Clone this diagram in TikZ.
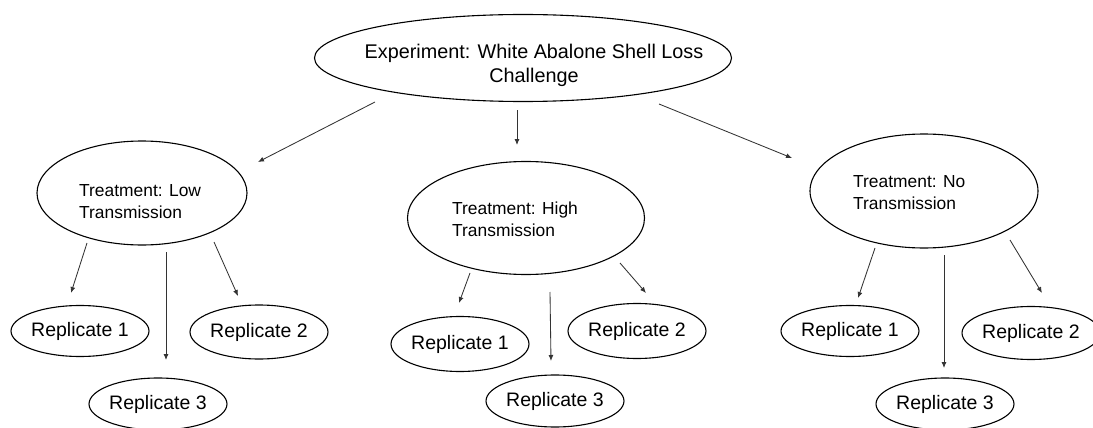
\documentclass[tikz,border=0pt]{standalone}
\usepackage{fontspec}
\setmainfont{Liberation Sans}
\usetikzlibrary{arrows.meta,shapes.geometric}
\tikzset{
  oval/.style={draw=black, line width=1.1pt, ellipse, inner sep=0pt},
  reptext/.style={font=\fontsize{19.5}{23}\selectfont, text=black},
  treattext/.style={font=\fontsize{17.4}{22.5}\selectfont, text=black, align=left, anchor=west, inner sep=0pt},
  toptext/.style={font=\fontsize{19.8}{24}\selectfont, text=black, align=center, inner sep=0pt},
  conn/.style={draw=black!80, line width=0.85pt, -{Latex[length=6pt,width=5pt]}}
}
\begin{document}
\begin{tikzpicture}[x=1pt,y=-1pt]
\useasboundingbox (0,0) rectangle (1093,428);
\begin{scope}
\clip (0,0) rectangle (1093,428);
% main ellipses
\node[oval, minimum width=417pt, minimum height=87pt] (top) at (523,58) {};
\node[toptext] (toptxt) at (534,65) {Experiment: White Abalone Shell Loss\\Challenge};
\node[oval, minimum width=210pt, minimum height=104pt] (low) at (142,193) {};
\node[treattext] (lowtxt) at (79,201.5) {Treatment: Low\\Transmission};
\node[oval, minimum width=237pt, minimum height=113pt] (high) at (526,218) {};
\node[treattext] (hightxt) at (452,219.5) {Treatment: High\\Transmission};
\node[oval, minimum width=228pt, minimum height=114pt] (no) at (924,191) {};
\node[treattext] (notxt) at (853,192.5) {Treatment: No\\Transmission};
% replicates
\node[oval, reptext, minimum width=134pt, minimum height=51pt] (lr1) at (80,331) {Replicate 1};
\node[oval, reptext, minimum width=134pt, minimum height=54pt] (lr2) at (259,332) {Replicate 2};
\node[oval, reptext, minimum width=135pt, minimum height=52pt] (lr3) at (158,404) {Replicate 3};
\node[oval, reptext, minimum width=135pt, minimum height=55pt] (hr1) at (460,344) {Replicate 1};
\node[oval, reptext, minimum width=136pt, minimum height=55pt] (hr2) at (637,331) {Replicate 2};
\node[oval, reptext, minimum width=136pt, minimum height=52pt] (hr3) at (555,401) {Replicate 3};
\node[oval, reptext, minimum width=135pt, minimum height=51pt] (nr1) at (850,331) {Replicate 1};
\node[oval, reptext, minimum width=126pt, minimum height=53pt] (nr2) at (1031,333) {Replicate 2};
\node[oval, reptext, minimum width=135pt, minimum height=52pt] (nr3) at (945,404) {Replicate 3};
\end{scope}
% connector end points
\coordinate (tl1) at (375,102); \coordinate (tl2) at (258,162);
\coordinate (th1) at (517,110); \coordinate (th2) at (517,145);
\coordinate (tn1) at (659,104); \coordinate (tn2) at (792,158);
\coordinate (l11) at (87,243);  \coordinate (l12) at (71,293);
\coordinate (l31) at (166,252); \coordinate (l32) at (166,360);
\coordinate (l21) at (214,242); \coordinate (l22) at (238,296);
\coordinate (h11) at (470,273); \coordinate (h12) at (459,303);
\coordinate (h31) at (550,292); \coordinate (h32) at (551,361);
\coordinate (h21) at (620,263); \coordinate (h22) at (646,293);
\coordinate (n11) at (875,248); \coordinate (n12) at (858,298);
\coordinate (n31) at (944,255); \coordinate (n32) at (944,368);
\coordinate (n21) at (1010,240); \coordinate (n22) at (1042,293);
\draw[conn] (tl1) -- (tl2);
\draw[conn] (th1) -- (th2);
\draw[conn] (tn1) -- (tn2);
\draw[conn] (l11) -- (l12);
\draw[conn] (l31) -- (l32);
\draw[conn] (l21) -- (l22);
\draw[conn] (h11) -- (h12);
\draw[conn] (h31) -- (h32);
\draw[conn] (h21) -- (h22);
\draw[conn] (n11) -- (n12);
\draw[conn] (n31) -- (n32);
\draw[conn] (n21) -- (n22);
\end{tikzpicture}
\end{document}
